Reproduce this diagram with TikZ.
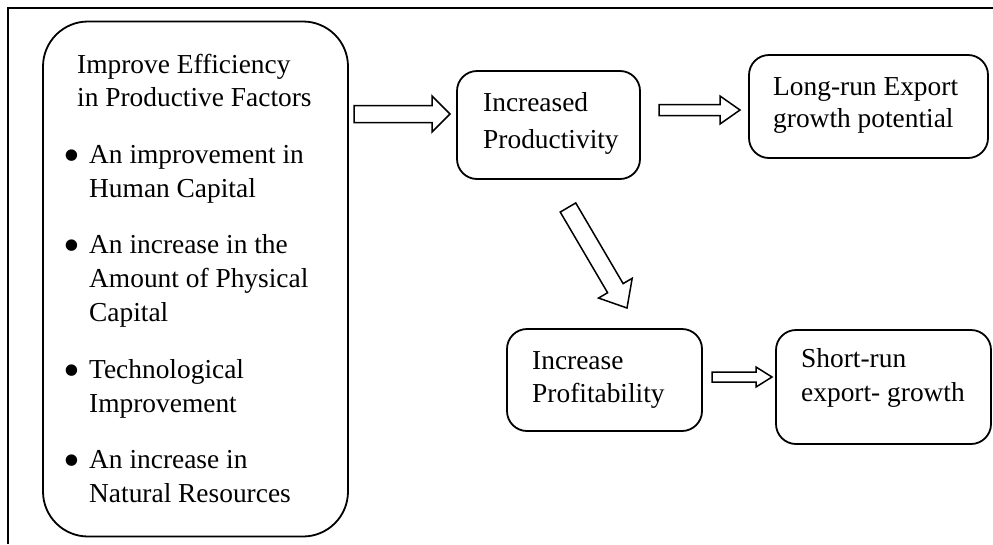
\documentclass[tikz,border=0pt]{standalone}
\usepackage{fontspec}
\setmainfont{Liberation Serif}
\usetikzlibrary{calc}

% several lines of text, the node's base is the first line's baseline
\newcommand\txtlines[2]{\vtop{\baselineskip=#1\relax\lineskiplimit=-\maxdimen
  \halign{##\hfil\cr#2\crcr}}}

% outlined block arrow: tail, tip, half shaft width, half head width, head length
\newcommand\blockarrow[5]{%
  \draw[blockline]
    ($(#1)!#3pt!90:(#2)$) --
    ($($(#2)!#5pt!(#1)$)!#3pt!-90:(#1)$) --
    ($($(#2)!#5pt!(#1)$)!#4pt!-90:(#1)$) --
    (#2) --
    ($($(#2)!#5pt!(#1)$)!#4pt!90:(#1)$) --
    ($($(#2)!#5pt!(#1)$)!#3pt!90:(#1)$) --
    ($(#1)!#3pt!-90:(#2)$) -- cycle;}

\begin{document}
\begin{tikzpicture}[x=1pt,y=-1pt,
  box/.style={draw, line width=1.8pt, rounded corners=20pt, inner sep=0pt},
  label/.style={anchor=base west, inner sep=0pt, font=\fontsize{27.4}{34}\selectfont},
  dot/.style={anchor=base, inner sep=0pt, font=\fontsize{48}{48}\selectfont},
  blockline/.style={line width=1.5pt, line join=miter},
  frame/.style={line width=1.5pt}]
\useasboundingbox (0,0) rectangle (993,544);

% page frame (top and left rules)
\draw[frame] (8,544) -- (8,8) -- (993,8);

% boxes
\node[box, rounded corners=45pt, minimum width=305pt, minimum height=515pt] (factors) at (195.5,279) {};
\node[box, minimum width=183pt, minimum height=108pt] (prod) at (548.5,125) {};
\node[box, minimum width=239pt, minimum height=103pt] (longrun) at (868.5,106.5) {};
\node[box, minimum width=195pt, minimum height=102pt] (profit) at (604.5,380) {};
\node[box, minimum width=215pt, minimum height=114pt] (shortrun) at (883.5,387) {};

% texts of the factor box
\node[label] (head) at (77,73) {\txtlines{33pt}{Improve Efficiency\cr in Productive Factors}};
\node[dot] (b1) at (72,171) {•};
\node[label] (i1) at (89,163) {\txtlines{34pt}{An improvement in\cr Human Capital}};
\node[dot] (b2) at (72,261) {•};
\node[label] (i2) at (89,253) {\txtlines{34pt}{An increase in the\cr Amount of Physical\cr Capital}};
\node[dot] (b3) at (72,386) {•};
\node[label] (i3) at (89,378) {\txtlines{34pt}{Technological\cr Improvement}};
\node[dot] (b4) at (72,476) {•};
\node[label] (i4) at (89,468) {\txtlines{34pt}{An increase in\cr Natural Resources}};

% texts of the other boxes
\node[label] (tprod) at (483,111) {\txtlines{37pt}{Increased\cr Productivity}};
\node[label] (tlong) at (773,95) {\txtlines{32pt}{Long-run Export\cr growth potential}};
\node[label] (tprofit) at (532,369) {\txtlines{33pt}{Increase\cr Profitability}};
\node[label] (tshort) at (801,367) {\txtlines{34pt}{Short-run\cr export- growth}};

% arrow ends
\coordinate (a1t) at (354,114);   \coordinate (a1h) at (450,114);
\coordinate (a2t) at (659,110);   \coordinate (a2h) at (740,110);
\coordinate (a3t) at (712,377);   \coordinate (a3h) at (772,377);
\coordinate (a4t) at (568,207.5); \coordinate (a4h) at (627,308);

\blockarrow{a1t}{a1h}{8.5}{18}{18}
\blockarrow{a2t}{a2h}{5.5}{14}{20}
\blockarrow{a3t}{a3h}{5}{10}{16}
\blockarrow{a4t}{a4h}{9}{19.5}{23}
\end{tikzpicture}
\end{document}
